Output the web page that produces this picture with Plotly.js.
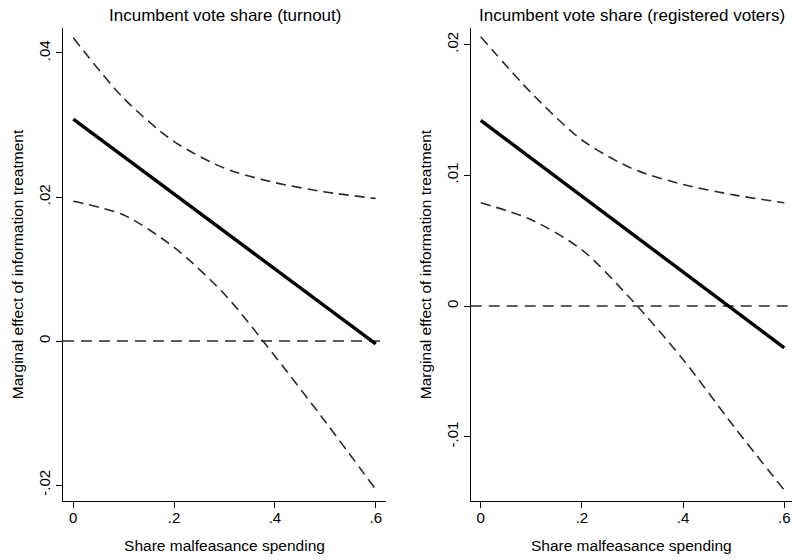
<!DOCTYPE html>
<html>
<head>
<meta charset="utf-8">
<script src="https://cdn.plot.ly/plotly-3.0.1.min.js"></script>
<style>html,body{margin:0;padding:0;background:#fff;}#chart{width:792px;height:560px;}</style>
</head>
<body>
<div id="chart"></div>
<script>
// Share malfeasance spending (x values)
const xShare = [0, 0.1, 0.2, 0.3, 0.4, 0.5, 0.6];

// Panel 1: Incumbent vote share (turnout)
const turnoutEffect = [0.0308, 0.0256, 0.0204, 0.0152, 0.0100, 0.0048, -0.0004];
const turnoutUpper  = [0.0421, 0.0337, 0.0277, 0.0240, 0.0220, 0.0207, 0.0198];
const turnoutLower  = [0.0194, 0.0175, 0.0130, 0.0065, -0.0021, -0.0112, -0.0206];

// Panel 2: Incumbent vote share (registered voters)
const regEffect = [0.0142, 0.0113, 0.0084, 0.0055, 0.0026, -0.0003, -0.0032];
const regUpper  = [0.0206, 0.0163, 0.0127, 0.0105, 0.0093, 0.0085, 0.0079];
const regLower  = [0.0079, 0.0066, 0.0043, 0.0004, -0.0041, -0.0092, -0.0141];

// Tick labels
const xTickVals = [0, 0.2, 0.4, 0.6];
const xTickText = ['0', '.2', '.4', '.6'];
const y1TickVals = [-0.02, 0, 0.02, 0.04];
const y1TickText = ['-.02', '0', '.02', '.04'];
const y2TickVals = [-0.01, 0, 0.01, 0.02];
const y2TickText = ['-.01', '0', '.01', '.02'];

const panelTitles = ['Incumbent vote share (turnout)', 'Incumbent vote share (registered voters)'];
const xTitle = 'Share malfeasance spending';
const yTitle = 'Marginal effect of information treatment';

const FONT = 'Liberation Sans, Arial, sans-serif';
const ciLine = {color: '#2a2a2a', width: 1.6, dash: '10px,6px', shape: 'spline', smoothing: 0.8};
const midLine = {color: '#000000', width: 3.4};

const traces = [
  {x: xShare, y: turnoutUpper, mode: 'lines', line: ciLine, xaxis: 'x', yaxis: 'y', hoverinfo: 'skip'},
  {x: xShare, y: turnoutLower, mode: 'lines', line: ciLine, xaxis: 'x', yaxis: 'y', hoverinfo: 'skip'},
  {x: xShare, y: turnoutEffect, mode: 'lines', line: midLine, xaxis: 'x', yaxis: 'y'},
  {x: xShare, y: regUpper, mode: 'lines', line: ciLine, xaxis: 'x2', yaxis: 'y2', hoverinfo: 'skip'},
  {x: xShare, y: regLower, mode: 'lines', line: ciLine, xaxis: 'x2', yaxis: 'y2', hoverinfo: 'skip'},
  {x: xShare, y: regEffect, mode: 'lines', line: midLine, xaxis: 'x2', yaxis: 'y2'}
];

const W = 792, H = 560;
const yDom = [1 - 501/H, 1 - 28/H];

function xAxis(domain, range, anchor) {
  return {
    domain: domain, range: range, anchor: anchor,
    tickvals: xTickVals, ticktext: xTickText,
    ticks: 'outside', ticklen: 6, tickwidth: 1, tickcolor: '#000',
    ticklabelstandoff: -3,
    showline: true, linecolor: '#000', linewidth: 1,
    showgrid: false, zeroline: false,
    tickfont: {family: FONT, size: 15, color: '#000'},
    title: {text: xTitle, font: {family: FONT, size: 15.5, color: '#000'}, standoff: 15},
    automargin: false, fixedrange: true
  };
}
function yAxis(range, vals, text, anchor) {
  return {
    domain: yDom, range: range, anchor: anchor,
    tickvals: vals, ticktext: text, tickangle: -90,
    ticks: 'outside', ticklen: 6, tickwidth: 1, tickcolor: '#000',
    showline: true, linecolor: '#000', linewidth: 1,
    showgrid: false, zeroline: false,
    tickfont: {family: FONT, size: 15, color: '#000'},
    title: {text: yTitle, font: {family: FONT, size: 15.5, color: '#000'}, standoff: 8},
    automargin: false, fixedrange: true
  };
}

const zeroLine = {color: '#2a2a2a', width: 1.4, dash: '11px,7px'};

const layout = {
  width: W, height: H,
  margin: {l: 0, r: 0, t: 0, b: 0},
  paper_bgcolor: '#fff', plot_bgcolor: '#fff',
  showlegend: false,
  xaxis: xAxis([63/W, 386/W], [-0.0204, 0.6204], 'y'),
  yaxis: yAxis([-0.02222, 0.04347], y1TickVals, y1TickText, 'x'),
  xaxis2: xAxis([470.7/W, 1], [-0.0198, 0.6152], 'y2'),
  yaxis2: yAxis([-0.01492, 0.02127], y2TickVals, y2TickText, 'x2'),
  shapes: [
    {type: 'line', xref: 'x domain', yref: 'y', x0: 0, x1: 1, y0: 0, y1: 0, line: zeroLine, layer: 'below'},
    {type: 'line', xref: 'x2 domain', yref: 'y2', x0: 0, x1: 1, y0: 0, y1: 0, line: zeroLine, layer: 'below'}
  ],
  annotations: [
    {text: panelTitles[0], xref: 'paper', yref: 'paper', x: (63 + 386) / 2 / W, y: 1 - 15/H,
     xanchor: 'center', yanchor: 'middle', showarrow: false,
     font: {family: FONT, size: 17, color: '#000'}},
    {text: panelTitles[1], xref: 'paper', yref: 'paper', x: 632.4 / W, y: 1 - 15/H,
     xanchor: 'center', yanchor: 'middle', showarrow: false,
     font: {family: FONT, size: 17, color: '#000'}}
  ]
};

Plotly.newPlot('chart', traces, layout, {displayModeBar: false, staticPlot: true});
</script>
</body>
</html>
